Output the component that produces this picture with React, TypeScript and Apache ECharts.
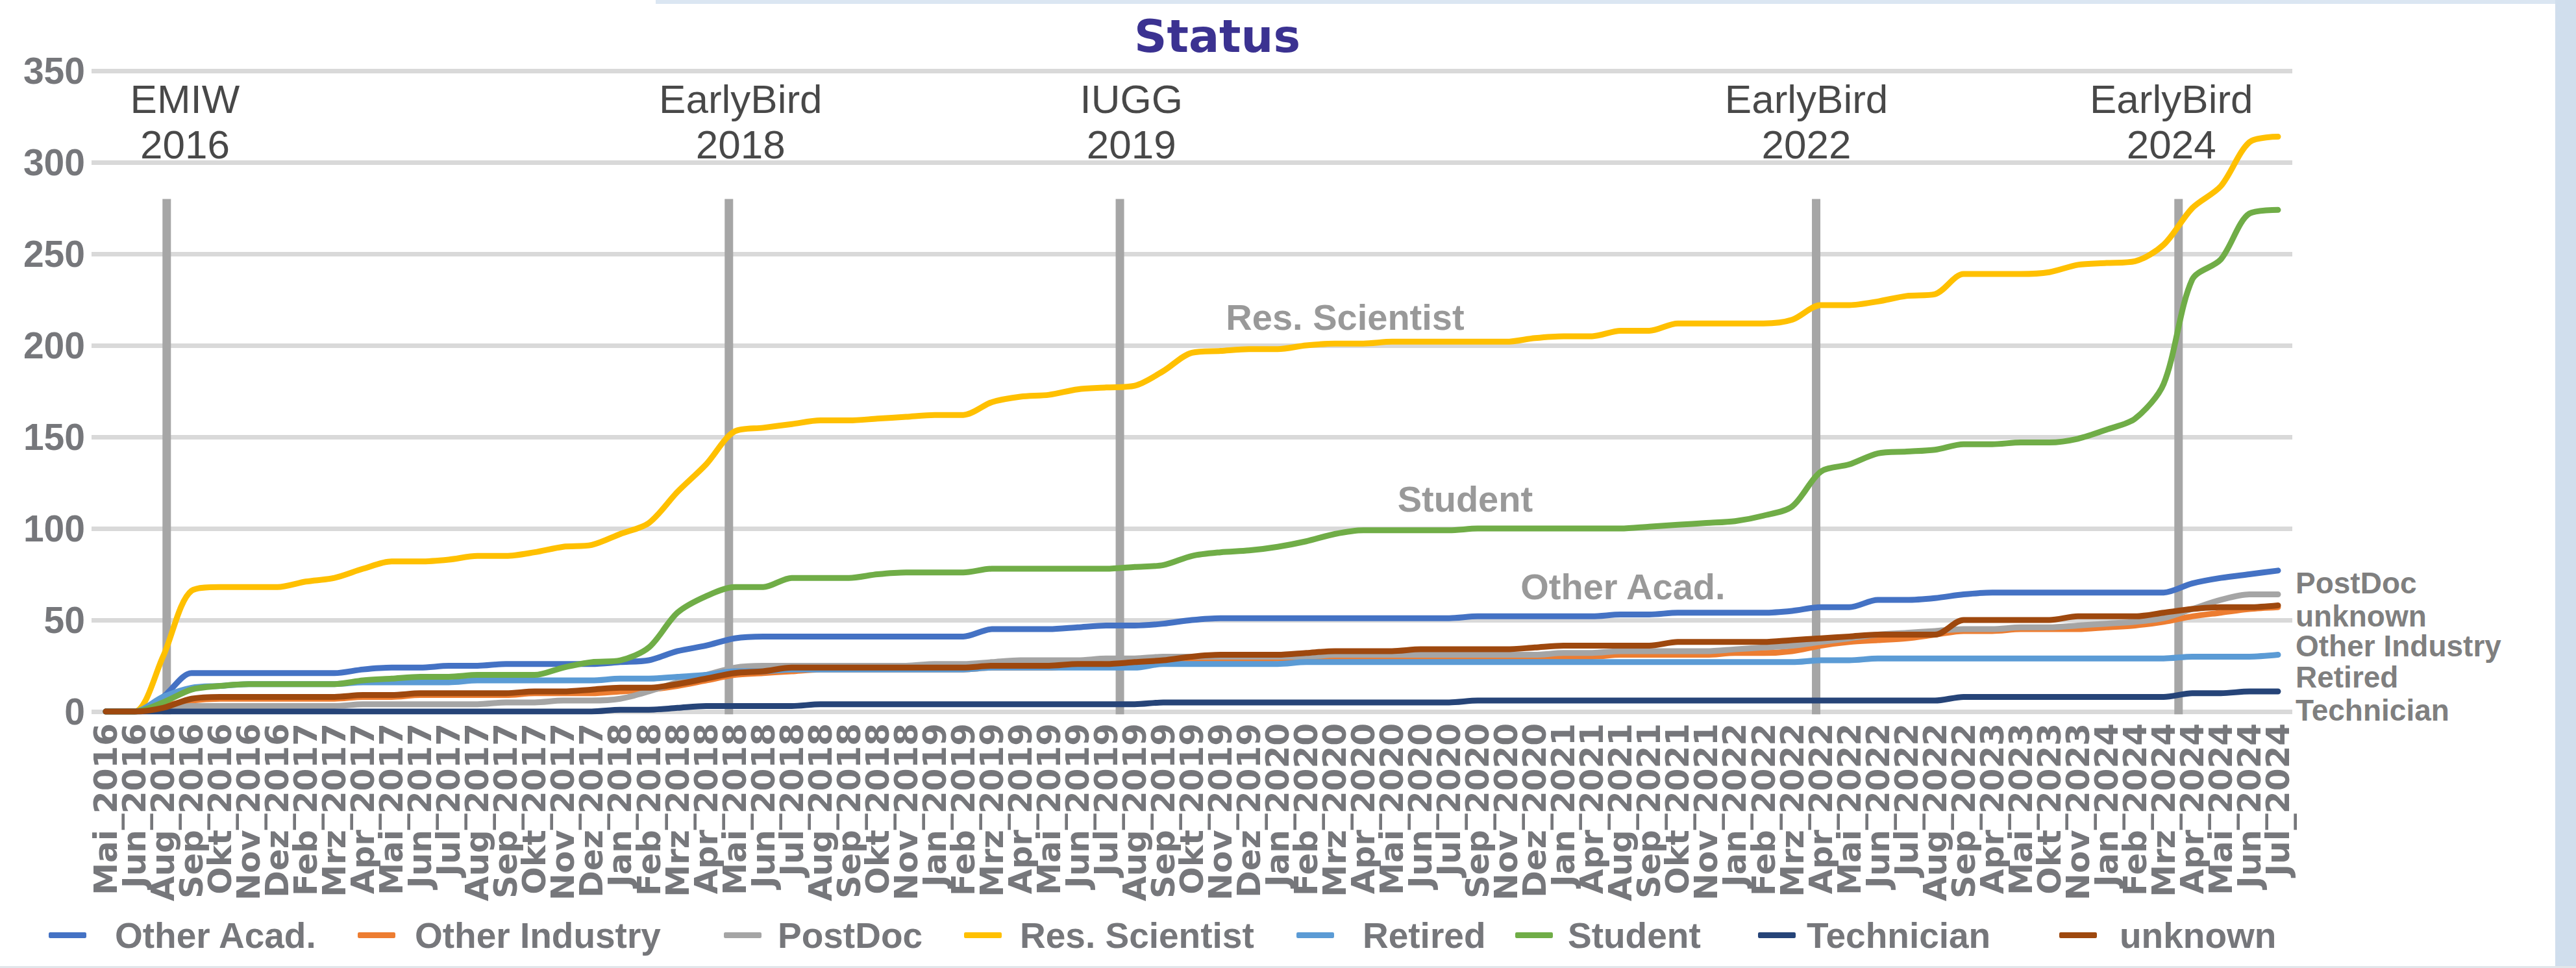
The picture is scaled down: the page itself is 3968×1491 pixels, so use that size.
import React, { useEffect, useRef } from "react";
import * as echarts from "echarts";

const categories = [
  "Mai_2016", "Jun_2016", "Aug_2016", "Sep_2016", "Okt_2016", "Nov_2016", "Dez_2016", "Feb_2017", "Mrz_2017", "Apr_2017",
  "Mai_2017", "Jun_2017", "Jul_2017", "Aug_2017", "Sep_2017", "Okt_2017", "Nov_2017", "Dez_2017", "Jan_2018", "Feb_2018",
  "Mrz_2018", "Apr_2018", "Mai_2018", "Jun_2018", "Jul_2018", "Aug_2018", "Sep_2018", "Okt_2018", "Nov_2018", "Jan_2019",
  "Feb_2019", "Mrz_2019", "Apr_2019", "Mai_2019", "Jun_2019", "Jul_2019", "Aug_2019", "Sep_2019", "Okt_2019", "Nov_2019",
  "Dez_2019", "Jan_2020", "Feb_2020", "Mrz_2020", "Apr_2020", "Mai_2020", "Jun_2020", "Jul_2020", "Sep_2020", "Nov_2020",
  "Dez_2020", "Jan_2021", "Apr_2021", "Aug_2021", "Sep_2021", "Okt_2021", "Nov_2021", "Jan_2022", "Feb_2022", "Mrz_2022",
  "Apr_2022", "Mai_2022", "Jun_2022", "Jul_2022", "Aug_2022", "Sep_2022", "Apr_2023", "Mai_2023", "Okt_2023", "Nov_2023",
  "Jan_2024", "Feb_2024", "Mrz_2024", "Apr_2024", "Mai_2024", "Jun_2024", "Jul_2024",
];

const otherAcad = [
  0, 0, 8, 21, 21, 21, 21, 21, 21, 23, 24, 24, 25, 25, 26, 26, 26, 26, 27, 28,
  33, 36, 40, 41, 41, 41, 41, 41, 41, 41, 41, 45, 45, 45, 46, 47, 47, 48, 50, 51,
  51, 51, 51, 51, 51, 51, 51, 51, 52, 52, 52, 52, 52, 53, 53, 54, 54, 54, 54, 55,
  57, 57, 61, 61, 62, 64, 65, 65, 65, 65, 65, 65, 65, 70, 73, 75, 77,
];
const otherIndustry = [
  0, 0, 3, 6, 7, 7, 7, 7, 7, 8, 8, 9, 9, 9, 9, 10, 10, 10, 11, 12,
  14, 17, 20, 21, 22, 23, 23, 23, 23, 23, 23, 24, 24, 24, 25, 25, 26, 27, 28, 28,
  28, 29, 29, 30, 30, 30, 30, 30, 30, 30, 30, 30, 30, 31, 31, 31, 31, 32, 32, 33,
  36, 38, 39, 40, 42, 44, 44, 45, 45, 45, 46, 47, 49, 52, 54, 56, 57,
];
const postDoc = [
  0, 0, 1, 3, 3, 3, 3, 3, 3, 4, 4, 4, 4, 4, 5, 5, 6, 6, 7, 11,
  16, 20, 24, 25, 25, 25, 25, 25, 25, 26, 26, 27, 28, 28, 28, 29, 29, 30, 30, 30,
  30, 30, 30, 31, 31, 31, 31, 31, 31, 31, 31, 32, 32, 33, 33, 33, 33, 34, 35, 36,
  38, 40, 42, 43, 44, 45, 45, 46, 46, 47, 48, 49, 51, 56, 61, 64, 64,
];
const resScientist = [
  0, 0, 30, 66, 68, 68, 68, 71, 73, 78, 82, 82, 83, 85, 85, 87, 90, 91, 97, 103,
  120, 135, 153, 155, 157, 159, 159, 160, 161, 162, 162, 169, 172, 173, 176, 177, 178, 186, 196, 197,
  198, 198, 200, 201, 201, 202, 202, 202, 202, 202, 204, 205, 205, 208, 208, 212, 212, 212, 212, 214,
  222, 222, 224, 227, 228, 239, 239, 239, 240, 244, 245, 246, 255, 275, 287, 311, 314,
];
const retired = [
  0, 0, 8, 13, 14, 15, 15, 15, 15, 16, 16, 16, 16, 17, 17, 17, 17, 17, 18, 18,
  19, 20, 22, 22, 23, 23, 23, 23, 23, 23, 23, 24, 24, 24, 24, 24, 24, 26, 26, 26,
  26, 26, 27, 27, 27, 27, 27, 27, 27, 27, 27, 27, 27, 27, 27, 27, 27, 27, 27, 27,
  28, 28, 29, 29, 29, 29, 29, 29, 29, 29, 29, 29, 29, 30, 30, 30, 31,
];
const student = [
  0, 0, 5, 12, 14, 15, 15, 15, 15, 17, 18, 19, 19, 20, 20, 20, 24, 27, 28, 35,
  54, 63, 68, 68, 73, 73, 73, 75, 76, 76, 76, 78, 78, 78, 78, 78, 79, 80, 85, 87,
  88, 90, 93, 97, 99, 99, 99, 99, 100, 100, 100, 100, 100, 100, 101, 102, 103, 104, 107, 112,
  131, 135, 141, 142, 143, 146, 146, 147, 147, 149, 154, 160, 179, 236, 247, 272, 274,
];
const technician = [
  0, 0, 0, 0, 0, 0, 0, 0, 0, 0, 0, 0, 0, 0, 0, 0, 0, 0, 1, 1,
  2, 3, 3, 3, 3, 4, 4, 4, 4, 4, 4, 4, 4, 4, 4, 4, 4, 5, 5, 5,
  5, 5, 5, 5, 5, 5, 5, 5, 6, 6, 6, 6, 6, 6, 6, 6, 6, 6, 6, 6,
  6, 6, 6, 6, 6, 8, 8, 8, 8, 8, 8, 8, 8, 10, 10, 11, 11,
];
const unknown = [
  0, 0, 2, 7, 8, 8, 8, 8, 8, 9, 9, 10, 10, 10, 10, 11, 11, 12, 13, 13,
  15, 18, 21, 22, 24, 24, 24, 24, 24, 24, 24, 25, 25, 25, 26, 26, 27, 28, 30, 31,
  31, 31, 32, 33, 33, 33, 34, 34, 34, 34, 35, 36, 36, 36, 36, 38, 38, 38, 38, 39,
  40, 41, 42, 42, 42, 50, 50, 50, 50, 52, 52, 52, 54, 56, 57, 57, 58,
];

const seriesNames = ["Other Acad.", "Other Industry", "PostDoc", "Res. Scientist", "Retired", "Student", "Technician", "unknown"];
const seriesData = [otherAcad, otherIndustry, postDoc, resScientist, retired, student, technician, unknown];
const seriesColors = ["#4472c4", "#ed7d31", "#a5a5a5", "#ffc000", "#5b9bd5", "#70ad47", "#264478", "#9e480e"];

// end labels at the right side (label text, vertical offset)
const endLabelText: Record<string, [string, number]> = {
  "PostDoc": ["PostDoc", -18],
  "unknown": ["unknown", 17],
  "Other Industry": ["Other Industry", 60],
  "Retired": ["Retired", 34],
  "Technician": ["Technician", 29],
};

// event markers (position in category units on a hidden value axis)
const eventLineX = [2.63, 22.3, 35.98, 60.34, 73.02];
const eventLabelX = [3.27, 22.71, 36.38, 60.0, 72.77];
const eventLabels = ["EMIW\n2016", "EarlyBird\n2018", "IUGG\n2019", "EarlyBird\n2022", "EarlyBird\n2024"];
const eventLineTop = 280;
const eventLineBottom = -1.5;
const eventLabelY = 322;

// in-plot series annotations
const noteNames = ["Res. Scientist", "Student", "Other Acad."];
const noteX = [43.86, 48.06, 53.58];
const noteY = [215.6, 116, 68.4];

const yTicks = { min: 0, max: 350, interval: 50 };

// legend layout
const legendLeft = [70, 546, 1110, 1480, 1992, 2329, 2703, 3167];
const legendPad = [39, 25, 20, 23, 39, 18, 12, 30];

const gray = "#76777b";

export default function App() {
  const ref = useRef<HTMLDivElement>(null);
  useEffect(() => {
    const chart = echarts.init(ref.current as HTMLDivElement, null, { renderer: "svg" });
    const lineSeries = seriesNames.map((name, i) => {
      const el = endLabelText[name];
      return {
        name,
        type: "line",
        xAxisIndex: 0,
        yAxisIndex: 0,
        data: seriesData[i],
        smooth: 0.3,
        symbol: "none",
        showSymbol: false,
        z: 3,
        color: seriesColors[i],
        lineStyle: { width: 9, color: seriesColors[i], cap: "round", join: "round" },
        endLabel: el
          ? {
              show: true,
              formatter: el[0],
              distance: 27,
              offset: [0, el[1]],
              color: "#7f7f7f",
              fontSize: 46,
              fontWeight: "bold",
              fontFamily: "Liberation Sans, Arial, sans-serif",
            }
          : { show: false },
      };
    });

    const eventSeries = eventLineX.map((x, i) => ({
      name: "event" + i,
      type: "line",
      xAxisIndex: 1,
      yAxisIndex: 0,
      data: [
        [x, eventLineTop],
        [x, eventLineBottom],
      ],
      symbol: "none",
      showSymbol: false,
      clip: false,
      silent: true,
      z: 2,
      lineStyle: { color: "#a6a6a6", width: 13, cap: "butt" },
    }));

    const option: any = {
      animation: false,
      backgroundColor: "#ffffff",
      title: {
        text: "Status",
        left: 1742,
        top: 16,
        textStyle: { color: "#3b3291", fontSize: 70, fontWeight: "bold", fontFamily: "DejaVu Sans, sans-serif" },
      },
      grid: { left: 141, right: 437, top: 109, bottom: 395, containLabel: false },
      xAxis: [
        {
          type: "category",
          data: categories,
          boundaryGap: true,
          axisLine: { show: false },
          axisTick: { show: false },
          splitLine: { show: false },
          axisLabel: {
            interval: 0,
            rotate: 90,
            margin: 18,
            color: gray,
            fontSize: 50,
            fontWeight: "bold",
            fontFamily: "DejaVu Sans, sans-serif",
          },
        },
        { type: "value", min: 0, max: 77, show: false },
      ],
      yAxis: {
        type: "value",
        min: yTicks.min,
        max: yTicks.max,
        interval: yTicks.interval,
        axisLine: { show: false },
        axisTick: { show: false },
        splitLine: { show: true, lineStyle: { color: "#d9d9d9", width: 7 } },
        axisLabel: {
          margin: 10,
          color: gray,
          fontSize: 57,
          fontWeight: "bold",
          fontFamily: "Liberation Sans, Arial, sans-serif",
        },
      },
      legend: seriesNames.map((name, i) => ({
        data: [name],
        left: legendLeft[i],
        top: 1408,
        icon: "roundRect",
        itemWidth: 58,
        itemHeight: 9,
        textStyle: {
          color: gray,
          fontSize: 55,
          fontWeight: "bold",
          fontFamily: "Liberation Sans, Arial, sans-serif",
          padding: [0, 0, 0, legendPad[i]],
        },
      })),
      graphic: [
        { type: "rect", shape: { x: 1010, y: 0, width: 2958, height: 6 }, style: { fill: "#dbe6f2" }, silent: true },
        { type: "rect", shape: { x: 3936, y: 0, width: 32, height: 1491 }, style: { fill: "#d0deed" }, silent: true },
        { type: "rect", shape: { x: 0, y: 1488, width: 3968, height: 3 }, style: { fill: "#e1e6ea" }, silent: true },
      ],
      series: [
        ...eventSeries,
        {
          name: "events",
          type: "scatter",
          xAxisIndex: 1,
          yAxisIndex: 0,
          symbolSize: 0,
          z: 2,
          data: eventLabelX.map((x, i) => ({ value: [x, eventLabelY], name: eventLabels[i] })),
          label: {
            show: true,
            position: "inside",
            formatter: "{b}",
            color: "#1a1a1a",
            fontSize: 62,
            lineHeight: 70,
            fontFamily: "Liberation Sans, Arial, sans-serif",
          },
        },
        {
          name: "notes",
          type: "scatter",
          xAxisIndex: 1,
          yAxisIndex: 0,
          symbolSize: 0,
          z: 5,
          data: noteX.map((x, i) => ({ value: [x, noteY[i]], name: noteNames[i] })),
          label: {
            show: true,
            position: "inside",
            formatter: "{b}",
            color: "#7f7f7f",
            fontSize: 56,
            fontWeight: "bold",
            fontFamily: "Liberation Sans, Arial, sans-serif",
          },
        },
        ...lineSeries,
      ],
    };
    chart.setOption(option);
    return () => chart.dispose();
  }, []);
  return (
    <div
      ref={ref}
      style={{ position: "absolute", left: 0, top: 0, width: "3968px", height: "1491px", background: "#fff" }}
    />
  );
}
